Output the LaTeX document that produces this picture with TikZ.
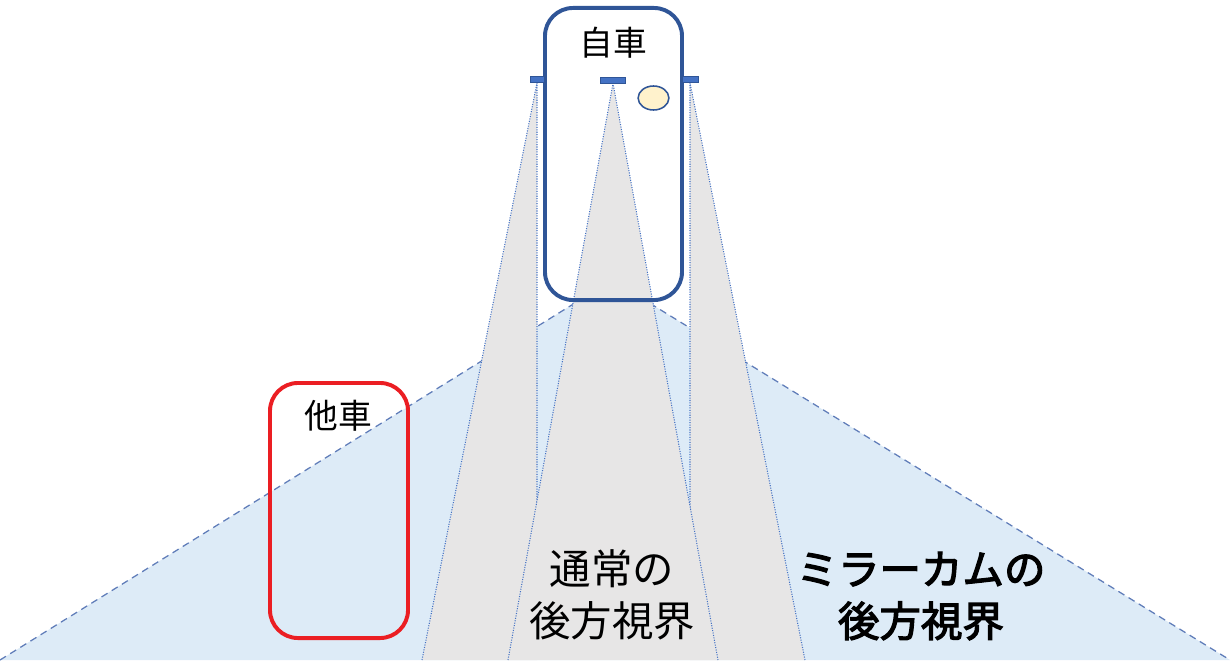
\documentclass[tikz,border=0pt]{standalone}
\usepackage{fontspec}
\newfontfamily\jpfont{Noto Sans CJK JP}
\newfontfamily\jpmedium[FakeBold=3]{Noto Sans CJK JP}
\usetikzlibrary{positioning, shapes.geometric}
\definecolor{egoblue}{RGB}{47, 85, 151}
\definecolor{mirblue}{RGB}{68, 114, 196}
\definecolor{camfill}{RGB}{221, 235, 247}
\definecolor{viewgray}{RGB}{231, 230, 230}
\definecolor{edgeblue}{RGB}{96, 125, 185}
\definecolor{otherred}{RGB}{235, 30, 35}
\definecolor{lampyellow}{RGB}{255, 242, 204}

\begin{document}
\begin{tikzpicture}[x=0.025cm, y=-0.025cm,
  carbox/.style={draw, rounded corners=0.7cm, line width=2.8pt, inner sep=0pt},
  mirror/.style={draw=egoblue, fill=mirblue, line width=0.5pt, minimum height=0.15cm, inner sep=0pt},
  viewedge/.style={draw=mirblue, densely dotted, line width=0.75pt},
  camedge/.style={draw=edgeblue, dash pattern=on 5pt off 3.5pt, line width=0.9pt},
  carlabel/.style={font=\jpfont\fontsize{24}{28}\selectfont, inner sep=0pt},
  viewlabel/.style={font=\jpfont\fontsize{29.5}{37}\selectfont, align=center, inner sep=0pt}
]
  \useasboundingbox (0,0) rectangle (1230,660);

  % mirrors and camera apex
  \node[mirror, minimum width=0.35cm] (mirL) at (537, 79.5) {};
  \node[mirror, minimum width=0.625cm] (mirC) at (613, 80) {};
  \node[mirror, minimum width=0.4cm] (mirR) at (690, 79.5) {};
  \coordinate (camtop) at (612, 280);
  \coordinate (camL) at (0, 660);
  \coordinate (camR) at (1230, 660);

  % rear view of the mirror camera
  \fill[camfill] (camtop) -- (camL) -- (camR) -- cycle;
  \draw[camedge] (camL) -- (camtop) -- (camR);

  % normal rear view (side mirrors, then room mirror)
  \fill[viewgray] (mirL.south) -- (422, 660) -- (mirL.south |- camL) -- cycle;
  \draw[viewedge] (422, 660) -- (mirL.south) -- (mirL.south |- camL);
  \fill[viewgray] (mirR.south) -- (805, 660) -- (mirR.south |- camL) -- cycle;
  \draw[viewedge] (805, 660) -- (mirR.south) -- (mirR.south |- camL);
  \fill[viewgray] (mirC.south) -- (508, 660) -- (718, 660) -- cycle;
  \draw[viewedge] (508, 660) -- (mirC.south) -- (718, 660);

  % own car
  \node[carbox, draw=egoblue, minimum width=3.425cm, minimum height=7.3cm] (ego) at (613.5, 154) {};
  \node[carlabel] (egotext) at (613, 43) {自車};
  \node[draw=egoblue, fill=lampyellow, ellipse, line width=1.1pt, minimum width=0.77cm, minimum height=0.6cm, inner sep=0pt] (lamp) at (653.5, 98) {};
  \node[mirror, minimum width=0.35cm] at (mirL) {};
  \node[mirror, minimum width=0.625cm] at (mirC) {};
  \node[mirror, minimum width=0.4cm] at (mirR) {};

  % other car
  \node[carbox, draw=otherred, minimum width=3.45cm, minimum height=6.375cm] (other) at (339, 510.5) {};
  \node[carlabel] (othertext) at (338, 416) {他車};

  % labels
  \node[viewlabel] (normtext) at (612, 595) {通常の\\後方視界};
  \node[viewlabel, font=\jpmedium\fontsize{29.5}{37}\selectfont] (camtext) at (921, 596) {ミラーカムの\\後方視界};
\end{tikzpicture}
\end{document}
